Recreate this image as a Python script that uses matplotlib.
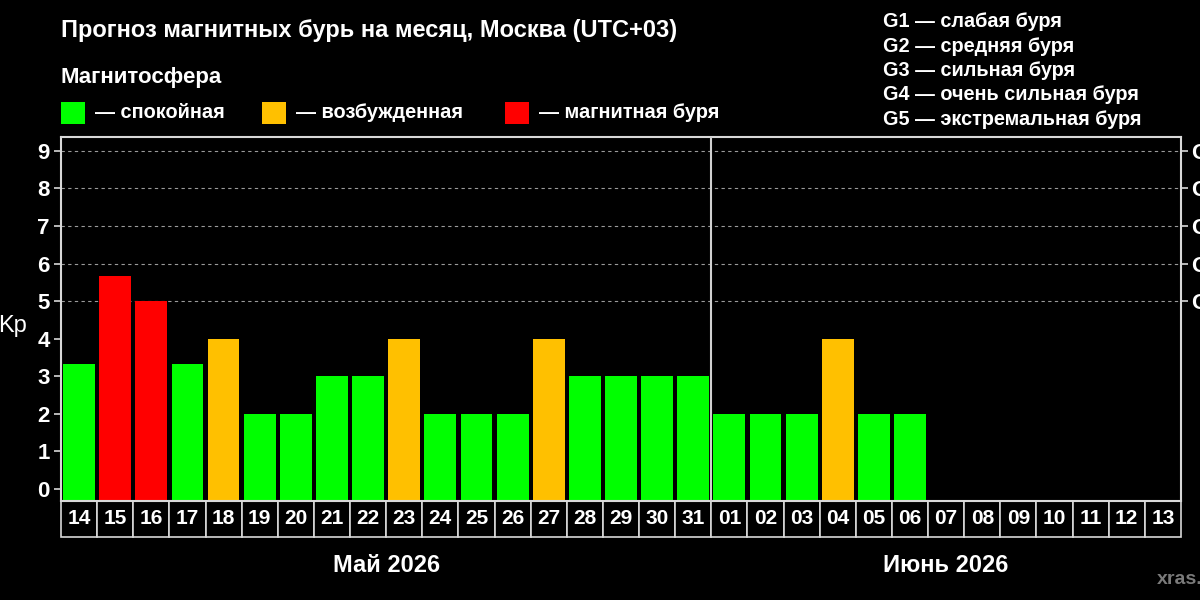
import matplotlib
matplotlib.use('Agg')
import matplotlib.pyplot as plt
from matplotlib.patches import Rectangle
import matplotlib.transforms as mtransforms

plt.rcParams['font.family'] = ['Liberation Sans', 'DejaVu Sans']

# data
days = ['14', '15', '16', '17', '18', '19', '20', '21', '22', '23', '24', '25', '26', '27', '28', '29', '30', '31',
        '01', '02', '03', '04', '05', '06', '07', '08', '09', '10', '11', '12', '13']
kp = [3.33, 5.67, 5.0, 3.33, 4.0, 2.0, 2.0, 3.0, 3.0, 4.0, 2.0, 2.0, 2.0, 4.0, 3.0, 3.0, 3.0, 3.0,
      2.0, 2.0, 2.0, 4.0, 2.0, 2.0]
months = ['Май 2026', 'Июнь 2026']
month_days = [18, 13]
g_levels = [5, 6, 7, 8, 9]
g_labels = ['G1', 'G2', 'G3', 'G4', 'G5']
g_text = ['G1 — слабая буря', 'G2 — средняя буря', 'G3 — сильная буря',
          'G4 — очень сильная буря', 'G5 — экстремальная буря']
states = ['— спокойная', '— возбужденная', '— магнитная буря']

GREEN = '#00ff00'
ORANGE = '#ffc000'
RED = '#ff0000'
state_colors = [GREEN, ORANGE, RED]
YMIN, YMAX = -0.32, 9.37


def kp_color(v):
    if v >= 5:
        return RED
    if v >= 4:
        return ORANGE
    return GREEN


fig = plt.figure(figsize=(12, 6), dpi=100, facecolor='black')
ax = fig.add_axes([61 / 1200, 1 - 501 / 600, 1120 / 1200, 364 / 600])
ax.set_facecolor('black')

ax.set_xlim(-0.5, len(days) - 0.5)
ax.set_ylim(YMIN, YMAX)

# dashed grid at storm levels only
ax.hlines(g_levels, -0.5, len(days) - 0.5, colors='#9a9a9a', linestyles=(0, (3, 3)), linewidth=0.8, zorder=0)

# bars start at the bottom of the axes, not at 0
xs = list(range(len(kp)))
ax.bar(xs, [v - YMIN for v in kp], width=0.88, bottom=YMIN, color=[kp_color(v) for v in kp], zorder=2)

# month separator
ax.axvline(month_days[0] - 0.5, color='#d0d0d0', linewidth=1.5, zorder=3)

for s in ax.spines.values():
    s.set_color('#d8d8d8')
    s.set_linewidth(1.5)

ax.set_xticks([])
ax.set_yticks(range(10))
ax.tick_params(axis='y', colors='#d8d8d8', length=5, width=1.2, labelsize=16, pad=3)
for t in ax.get_yticklabels():
    t.set_fontweight('bold')
    t.set_color('white')
ax.set_ylabel('Kp', rotation=0, color='white', fontsize=17, va='center', ha='center')
ax.yaxis.set_label_coords(-0.043, 0.48)

ax2 = ax.twinx()
ax2.set_ylim(ax.get_ylim())
ax2.set_yticks(g_levels)
ax2.set_yticklabels(g_labels, fontweight='bold', fontsize=16, color='white')
ax2.tick_params(axis='y', colors='#d8d8d8', length=5, width=1.2, pad=2)
for t in ax2.get_yticklabels():
    t.set_color('white')
for s in ax2.spines.values():
    s.set_visible(False)

# date boxes under the axis
trans = mtransforms.blended_transform_factory(ax.transData, ax.transAxes)
box_h = 36 / 364
for i, d in enumerate(days):
    ax.add_patch(Rectangle((i - 0.5, -box_h), 1, box_h, transform=trans, facecolor='black',
                           edgecolor='#d8d8d8', linewidth=1.2, clip_on=False))
    ax.text(i, -box_h / 2, d, transform=trans, ha='center', va='center', color='white',
            fontsize=15, fontweight='bold')

start = 0
for m, n in zip(months, month_days):
    ax.text(start + (n - 1) / 2, -64 / 364, m, transform=trans, ha='center', va='center',
            color='white', fontsize=17, fontweight='bold')
    start += n

# header texts
fig.text(61 / 1200, 1 - 37 / 600, 'Прогноз магнитных бурь на месяц, Москва (UTC+03)',
         color='white', fontsize=17, fontweight='bold', va='baseline')
fig.text(61 / 1200, 1 - 83 / 600, 'Магнитосфера', color='white', fontsize=16,
         fontweight='bold', va='baseline')

sq_x = [61, 262, 505]
for x0, c, label in zip(sq_x, state_colors, states):
    fig.patches.append(Rectangle((x0 / 1200, 1 - 124 / 600), 24 / 1200, 22 / 600,
                                 transform=fig.transFigure, facecolor=c, edgecolor='none'))
    fig.text((x0 + 34) / 1200, 1 - 118 / 600, label, color='white', fontsize=14.4,
             fontweight='bold', va='baseline')

for k, line in enumerate(g_text):
    fig.text(883 / 1200, 1 - (27 + 24.5 * k) / 600, line, color='white', fontsize=14.3,
             fontweight='bold', va='baseline')

fig.text(1157 / 1200, 1 - 584 / 600, 'xras.ru', color='#7a7a7a', fontsize=14,
         fontweight='bold', va='baseline')

fig.savefig('out.png', dpi=100, facecolor='black')
